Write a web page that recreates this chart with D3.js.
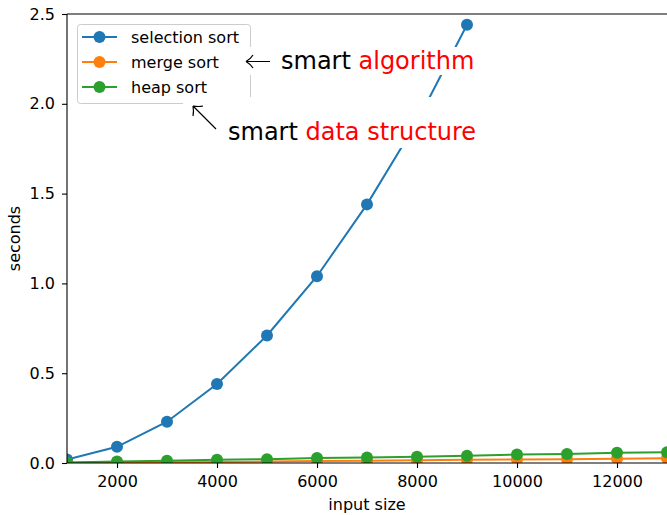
<!DOCTYPE html>
<html>
<head>
  <script src="https://d3js.org/d3.v7.min.js"></script>
  <style>
    body { margin: 0; background: white; }
    svg text { font-family: "DejaVu Sans", sans-serif; }
    .tick text { font-size: 16px; fill: #000; }
    .tick line { stroke: #000; stroke-width: 1.1; }
  </style>
</head>
<body>
  <div id="chart"></div>
  <script>
    // data
    const inputSizes = [1000, 2000, 3000, 4000, 5000, 6000, 7000, 8000, 9000, 10000, 11000, 12000, 13000];
    const selectionSort = [0.02, 0.09, 0.23, 0.44, 0.71, 1.04, 1.44, 1.90, 2.44];
    const mergeSort = [0.001, 0.003, 0.004, 0.006, 0.008, 0.011, 0.013, 0.015, 0.018, 0.020, 0.021, 0.024, 0.026];
    const heapSort = [0.003, 0.008, 0.012, 0.018, 0.021, 0.028, 0.031, 0.035, 0.040, 0.047, 0.050, 0.057, 0.060];
    const seriesNames = ['selection sort', 'merge sort', 'heap sort'];
    const seriesColors = ['#1f77b4', '#ff7f0e', '#2ca02c'];
    const xTicks = [2000, 4000, 6000, 8000, 10000, 12000];
    const yTicks = [0, 0.5, 1.0, 1.5, 2.0, 2.5];

    const width = 667, height = 515;
    const margin = { left: 67, right: 0, top: 14, bottom: 52 };

    const svg = d3.select('#chart').append('svg')
      .attr('width', width)
      .attr('height', height);

    const x = d3.scaleLinear().domain([1000, 13000]).range([margin.left, width - margin.right]);
    const y = d3.scaleLinear().domain([0, 2.5]).range([height - margin.bottom, margin.top]);

    svg.append('defs').append('clipPath').attr('id', 'plot')
      .append('rect')
      .attr('x', margin.left).attr('y', margin.top)
      .attr('width', width - margin.left + 20)
      .attr('height', y(0) - margin.top);

    // axes
    svg.append('g')
      .attr('transform', `translate(0,${y(0)})`)
      .call(d3.axisBottom(x).tickValues(xTicks).tickFormat(d3.format('d')).tickSize(5).tickPadding(8))
      .call(g => g.select('.domain').remove());

    svg.append('g')
      .attr('transform', `translate(${margin.left},0)`)
      .call(d3.axisLeft(y).tickValues(yTicks).tickFormat(d3.format('.1f')).tickSize(5).tickPadding(7))
      .call(g => g.select('.domain').remove());

    // series
    const series = [
      { name: seriesNames[0], color: seriesColors[0], values: selectionSort },
      { name: seriesNames[1], color: seriesColors[1], values: mergeSort },
      { name: seriesNames[2], color: seriesColors[2], values: heapSort }
    ];

    const line = d3.line().x(d => x(d[0])).y(d => y(d[1]));
    const plot = svg.append('g').attr('clip-path', 'url(#plot)');

    series.forEach(s => {
      const pts = s.values.map((v, i) => [inputSizes[i], v]);
      plot.append('path')
        .datum(pts)
        .attr('d', line)
        .attr('fill', 'none')
        .attr('stroke', s.color)
        .attr('stroke-width', 2);
      plot.selectAll(null)
        .data(pts)
        .join('circle')
        .attr('cx', d => x(d[0]))
        .attr('cy', d => y(d[1]))
        .attr('r', 6)
        .attr('fill', s.color);
    });

    // spines
    svg.append('line').attr('x1', margin.left).attr('x2', width).attr('y1', margin.top).attr('y2', margin.top)
      .attr('stroke', '#000').attr('stroke-width', 1.1);
    svg.append('line').attr('x1', margin.left).attr('x2', width).attr('y1', y(0)).attr('y2', y(0))
      .attr('stroke', '#000').attr('stroke-width', 1.1);
    svg.append('line').attr('x1', margin.left).attr('x2', margin.left).attr('y1', margin.top).attr('y2', y(0))
      .attr('stroke', '#000').attr('stroke-width', 1.1);

    // axis labels
    svg.append('text')
      .attr('x', (margin.left + width) / 2).attr('y', 510)
      .attr('text-anchor', 'middle').attr('font-size', 16)
      .text('input size');
    svg.append('text')
      .attr('transform', `translate(20,${(margin.top + y(0)) / 2}) rotate(-90)`)
      .attr('text-anchor', 'middle').attr('font-size', 16)
      .text('seconds');

    // legend
    const legend = svg.append('g');
    legend.append('rect')
      .attr('x', 77.5).attr('y', 24.5).attr('width', 173).attr('height', 79)
      .attr('rx', 3)
      .attr('fill', 'white').attr('fill-opacity', 0.8)
      .attr('stroke', '#cccccc').attr('stroke-width', 1);
    series.forEach((s, i) => {
      const ly = 37 + i * 25;
      legend.append('line')
        .attr('x1', 82).attr('x2', 117).attr('y1', ly).attr('y2', ly)
        .attr('stroke', s.color).attr('stroke-width', 2);
      legend.append('circle').attr('cx', 99.5).attr('cy', ly).attr('r', 6).attr('fill', s.color);
      legend.append('text')
        .attr('x', 131).attr('y', ly + 6)
        .attr('font-size', 16)
        .text(s.name);
    });

    // annotations with white boxes on top of legend
    function note(boxX, boxY, boxW, boxH, tx, ty, black, red) {
      svg.append('rect').attr('x', boxX).attr('y', boxY).attr('width', boxW).attr('height', boxH).attr('fill', 'white');
      const t = svg.append('text').attr('x', tx).attr('y', ty).attr('font-size', 24);
      t.append('tspan').attr('fill', '#000').text(black + ' ');
      t.append('tspan').attr('fill', '#ff0000').text(red);
    }
    note(241, 47, 240, 28, 281, 69, 'smart', 'algorithm');
    note(183, 97, 300, 51, 228, 140, 'smart', 'data structure');

    // arrows
    const arrowStyle = g => g.attr('fill', 'none').attr('stroke', '#000').attr('stroke-width', 1.2);
    svg.append('path').attr('d', 'M246,61.5 L270,61.5 M246,61.5 Q251,58.5 253,55 M246,61.5 Q251,64.5 253,68').call(arrowStyle);
    svg.append('path').attr('d', 'M193,106 L216,129 M193,106 Q199,107 203,106 M193,106 Q194,112 193,116').call(arrowStyle);
  </script>
</body>
</html>
